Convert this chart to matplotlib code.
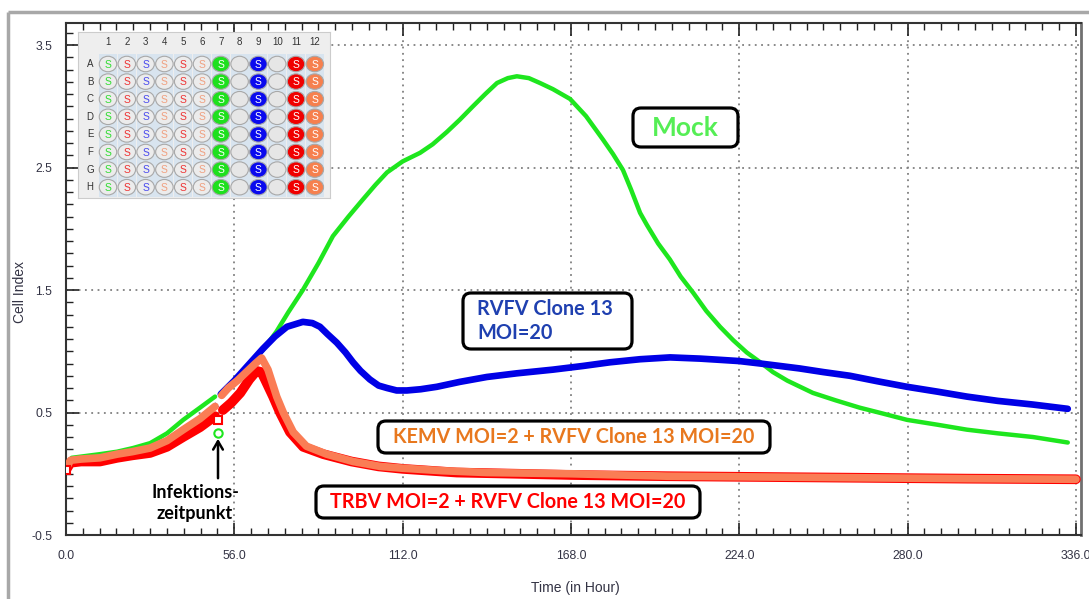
import numpy as np
import matplotlib
matplotlib.use('Agg')
import matplotlib.pyplot as plt
from matplotlib.patches import FancyBboxPatch, Ellipse, Rectangle
from matplotlib.ticker import MultipleLocator, FixedLocator

# ---- data (hours, cell index) ----
mock_t_pre = [0, 1.9, 5, 11.3, 17, 22.3, 28, 33.6, 39, 44.6, 49.6]
mock_ci_pre = [0.05, 0.13, 0.14, 0.16, 0.18, 0.21, 0.25, 0.33, 0.44, 0.54, 0.63]
mock_t = [51.5, 56, 60, 65.5, 70, 74, 78.8, 84, 88.8, 94, 98.8, 103, 106.8, 112,
          117.8, 122, 126.7, 131, 135.4, 139.5, 143.4, 147, 150, 154, 157.7, 162,
          167.7, 173, 178.6, 182, 185.3, 188, 191, 193.3, 197, 200.9, 204.5, 208.6,
          213, 217.6, 222, 226.5, 231, 235.2, 240, 248.5, 256, 264, 272, 279.8, 290,
          299.7, 310, 321.7, 333.3]
mock_ci = [0.65, 0.76, 0.87, 1.01, 1.16, 1.32, 1.50, 1.72, 1.94, 2.10, 2.24, 2.36,
           2.46, 2.55, 2.62, 2.69, 2.79, 2.89, 3.0, 3.10, 3.19, 3.23, 3.245, 3.23,
           3.19, 3.14, 3.06, 2.92, 2.73, 2.61, 2.48, 2.32, 2.13, 2.03, 1.88, 1.75,
           1.61, 1.48, 1.33, 1.20, 1.09, 0.99, 0.91, 0.83, 0.76, 0.66, 0.60, 0.54,
           0.49, 0.44, 0.40, 0.36, 0.33, 0.30, 0.255]

rvfv_t = [51.5, 56, 60, 65.5, 69.5, 73.5, 78.8, 82, 84.5, 87, 90.1, 93, 95.5, 98,
          101.1, 104, 106.8, 110, 113.4, 118, 123.4, 131, 140, 150, 162, 172, 181,
          191, 201, 211, 217.6, 224, 231, 244, 252, 260.8, 270, 279.8, 290, 299.7,
          310, 321.7, 333.3]
rvfv_ci = [0.65, 0.76, 0.87, 1.02, 1.12, 1.20, 1.24, 1.23, 1.20, 1.14, 1.07, 0.99,
           0.91, 0.84, 0.77, 0.72, 0.70, 0.68, 0.68, 0.69, 0.71, 0.75, 0.79, 0.82,
           0.85, 0.88, 0.91, 0.935, 0.95, 0.94, 0.93, 0.92, 0.90, 0.86, 0.83, 0.80,
           0.755, 0.71, 0.67, 0.63, 0.595, 0.565, 0.53]

kemv_t_pre = [0, 1.5, 5, 11.3, 17, 22, 28, 33.6, 39, 44.6, 49.6]
kemv_ci_pre = [0.04, 0.11, 0.12, 0.13, 0.16, 0.18, 0.21, 0.27, 0.36, 0.45, 0.55]
kemv_t = [51.8, 54, 57, 60, 63, 65.1, 67.2, 70.1, 72.3, 75.6, 80, 86.7, 95.5,
          104.5, 112, 125, 140, 168, 200, 250, 300, 336]
kemv_ci = [0.64, 0.70, 0.76, 0.83, 0.90, 0.945, 0.85, 0.63, 0.50, 0.34, 0.225,
           0.16, 0.10, 0.06, 0.045, 0.025, 0.01, 0.0, -0.02, -0.03, -0.04, -0.045]

trbv_t_pre = [0, 1.5, 5, 11.3, 17, 22, 28, 33.6, 39, 44.6, 49.6]
trbv_ci_pre = [0.03, 0.09, 0.10, 0.10, 0.13, 0.15, 0.17, 0.22, 0.30, 0.38, 0.47]
trbv_t = [52.2, 55, 58, 61, 63.4, 65, 66.2, 68.9, 71.2, 74.5, 78.9, 85.6, 95,
          104, 112, 130, 150, 168, 200, 250, 300, 336]
trbv_ci = [0.52, 0.58, 0.66, 0.77, 0.84, 0.83, 0.77, 0.63, 0.50, 0.34, 0.22, 0.16,
           0.10, 0.06, 0.04, 0.01, 0.0, -0.01, -0.02, -0.03, -0.04, -0.045]

# plate layout: 12 columns x 8 rows
plate_rows = ['A', 'B', 'C', 'D', 'E', 'F', 'G', 'H']
plate_fill = ['#ececec', '#ececec', '#ececec', '#ececec', '#ececec', '#ececec',
              '#1ee01e', '#e6e6e6', '#0a0aee', '#e6e6e6', '#f00000', '#f6804e']
plate_letter = ['#33dd33', '#ee3333', '#4a4aee', '#f0a080', '#ee3333', '#f0a080',
                'white', None, 'white', None, 'white', 'white']

x_major = [0, 56, 112, 168, 224, 280, 336]
y_major = [-0.5, 0.5, 1.5, 2.5, 3.5]

GREEN = '#1ee61e'
BLUE = '#0000e6'
RED = '#ff0000'
ORANGE = '#fa7d55'
TICKC = '#333344'

fig = plt.figure(figsize=(10.89, 5.99), dpi=100)
ax = fig.add_axes([66 / 1089, 1 - 535 / 599, 1015 / 1089, 512 / 599])

# curves
ax.plot(mock_t_pre, mock_ci_pre, color=GREEN, lw=3.2, solid_capstyle='round', zorder=3)
ax.plot(kemv_t_pre, kemv_ci_pre, color=BLUE, lw=4, zorder=2)
ax.plot(trbv_t_pre, trbv_ci_pre, color=RED, lw=7, solid_capstyle='round', zorder=4)
ax.plot(kemv_t_pre, kemv_ci_pre, color=ORANGE, lw=5.5, solid_capstyle='round', zorder=5)
ax.plot(mock_t, mock_ci, color=GREEN, lw=3.2, solid_capstyle='round', zorder=3)
ax.plot(rvfv_t, rvfv_ci, color=BLUE, lw=4.8, solid_capstyle='round', zorder=3.5)
ax.plot(trbv_t, trbv_ci, color=RED, lw=7, solid_capstyle='round', zorder=4)
ax.plot(kemv_t, kemv_ci, color=ORANGE, lw=5.5, solid_capstyle='round', zorder=5)

# markers at start and at infection time
ax.plot([0, 50.6], [0.03, 0.44], ls='none', marker='s', ms=6, mfc='white',
        mec=RED, mew=1.5, zorder=6)
ax.plot([50.6], [0.33], ls='none', marker='o', ms=6, mfc='white', mec=GREEN,
        mew=1.5, zorder=6)

ax.set_xlim(0, 337.7)
ax.set_ylim(-0.5, 3.68)
ax.xaxis.set_major_locator(FixedLocator(x_major))
ax.xaxis.set_minor_locator(MultipleLocator(5.6))
ax.yaxis.set_major_locator(FixedLocator(y_major))
ax.yaxis.set_minor_locator(MultipleLocator(0.1))
ax.set_xticklabels(['%.1f' % v for v in x_major])
ax.set_yticklabels(['%.1f' % v for v in y_major])
ax.tick_params(axis='both', which='both', direction='in', colors='#222222',
               labelcolor=TICKC, labelsize=8.8)
ax.tick_params(axis='x', which='both', top=True, pad=11)
ax.tick_params(axis='y', which='both', pad=10)
ax.tick_params(which='major', length=9, width=1.2)
ax.tick_params(which='minor', length=5, width=1.0)
for lab in ax.get_xticklabels() + ax.get_yticklabels():
    lab.set_family('Liberation Sans')
ax.grid(True, which='major', color='#808080', ls=(0, (1, 2.5)), lw=1.3)
for s in ['left', 'bottom', 'top']:
    ax.spines[s].set_color('#333333')
    ax.spines[s].set_linewidth(1.5)
ax.spines['right'].set_color('#707070')
ax.spines['right'].set_linewidth(2)

# plate inset
pl = fig.add_axes([78 / 1089, 1 - 198 / 599, 252 / 1089, 166 / 599])
pl.set_xlim(0, 252)
pl.set_ylim(166, 0)
pl.set_xticks([])
pl.set_yticks([])
pl.set_facecolor('#eeeeee')
for s in pl.spines.values():
    s.set_color('#cccccc')
for c in range(12):
    cx = 30 + c * 18.8
    pl.add_patch(Rectangle((cx - 9, 22), 18, 143, fc='#d8e4ef', ec='none'))
    pl.text(cx, 10, str(c + 1), ha='center', va='center', fontsize=7,
            color='#333333', family='Liberation Sans')
    for r in range(8):
        cy = 32 + r * 17.6
        pl.add_patch(Ellipse((cx, cy), 17.5, 15.5, fc=plate_fill[c], ec='#a8a8a8', lw=0.8))
        if plate_letter[c] is not None:
            pl.text(cx, cy + 0.5, 'S', ha='center', va='center', fontsize=7.5,
                    color=plate_letter[c], family='Liberation Sans')
for r, name in enumerate(plate_rows):
    pl.text(12, 32 + r * 17.6, name, ha='center', va='center', fontsize=7,
            color='#333333', family='Liberation Sans')

# overlay in pixel coordinates for frame, boxes and labels
ov = fig.add_axes([0, 0, 1, 1])
ov.set_xlim(0, 1089)
ov.set_ylim(599, 0)
ov.axis('off')
ov.patch.set_alpha(0)

ov.plot([8, 1089], [12, 12], color='#a8a8a8', lw=2.5, solid_capstyle='butt')
ov.plot([8, 8], [12, 599], color='#a8a8a8', lw=2.5, solid_capstyle='butt')

ov.text(20, 292, 'Cell Index', rotation=90, ha='center', va='center',
        fontsize=10, color=TICKC, family='Liberation Sans')
ov.text(575, 588, 'Time (in Hour)', ha='center', va='center',
        fontsize=10, color=TICKC, family='Liberation Sans')

boxes = [
    ((633, 108, 105, 39), 'Mock', '#55ee55', 19),
    ((463, 293, 169, 56), 'RVFV Clone 13\nMOI=20', '#1f40b0', 14.3),
    ((378, 421, 392, 32), 'KEMV MOI=2 + RVFV Clone 13 MOI=20', '#e8781e', 14.2),
    ((316, 486, 384, 32), 'TRBV MOI=2 + RVFV Clone 13 MOI=20', '#ff0000', 14.2),
]
for (bx, by, bw, bh), txt, col, fs in boxes:
    ov.add_patch(FancyBboxPatch((bx, by), bw, bh,
                                boxstyle='round,pad=0,rounding_size=8',
                                fc='white', ec='black', lw=2.3, zorder=7))
    if '\n' in txt:
        ov.text(bx + 14, by + bh / 2, txt, ha='left', va='center', fontsize=fs,
                color=col, weight='bold', family='Lato', linespacing=1.2, zorder=8)
    else:
        ov.text(bx + bw / 2, by + bh / 2, txt, ha='center', va='center',
                fontsize=fs, color=col, weight='bold', family='Lato', zorder=8)

ov.text(195, 503, 'Infektions-\nzeitpunkt', ha='center', va='center',
        fontsize=13, weight='bold', family='Lato', color='black', linespacing=1.3)
ov.annotate('', xy=(218, 436), xytext=(218, 481),
            arrowprops=dict(arrowstyle='->,head_length=0.6,head_width=0.35',
                            color='black', lw=1.8))

fig.savefig('out.png', dpi=100)
